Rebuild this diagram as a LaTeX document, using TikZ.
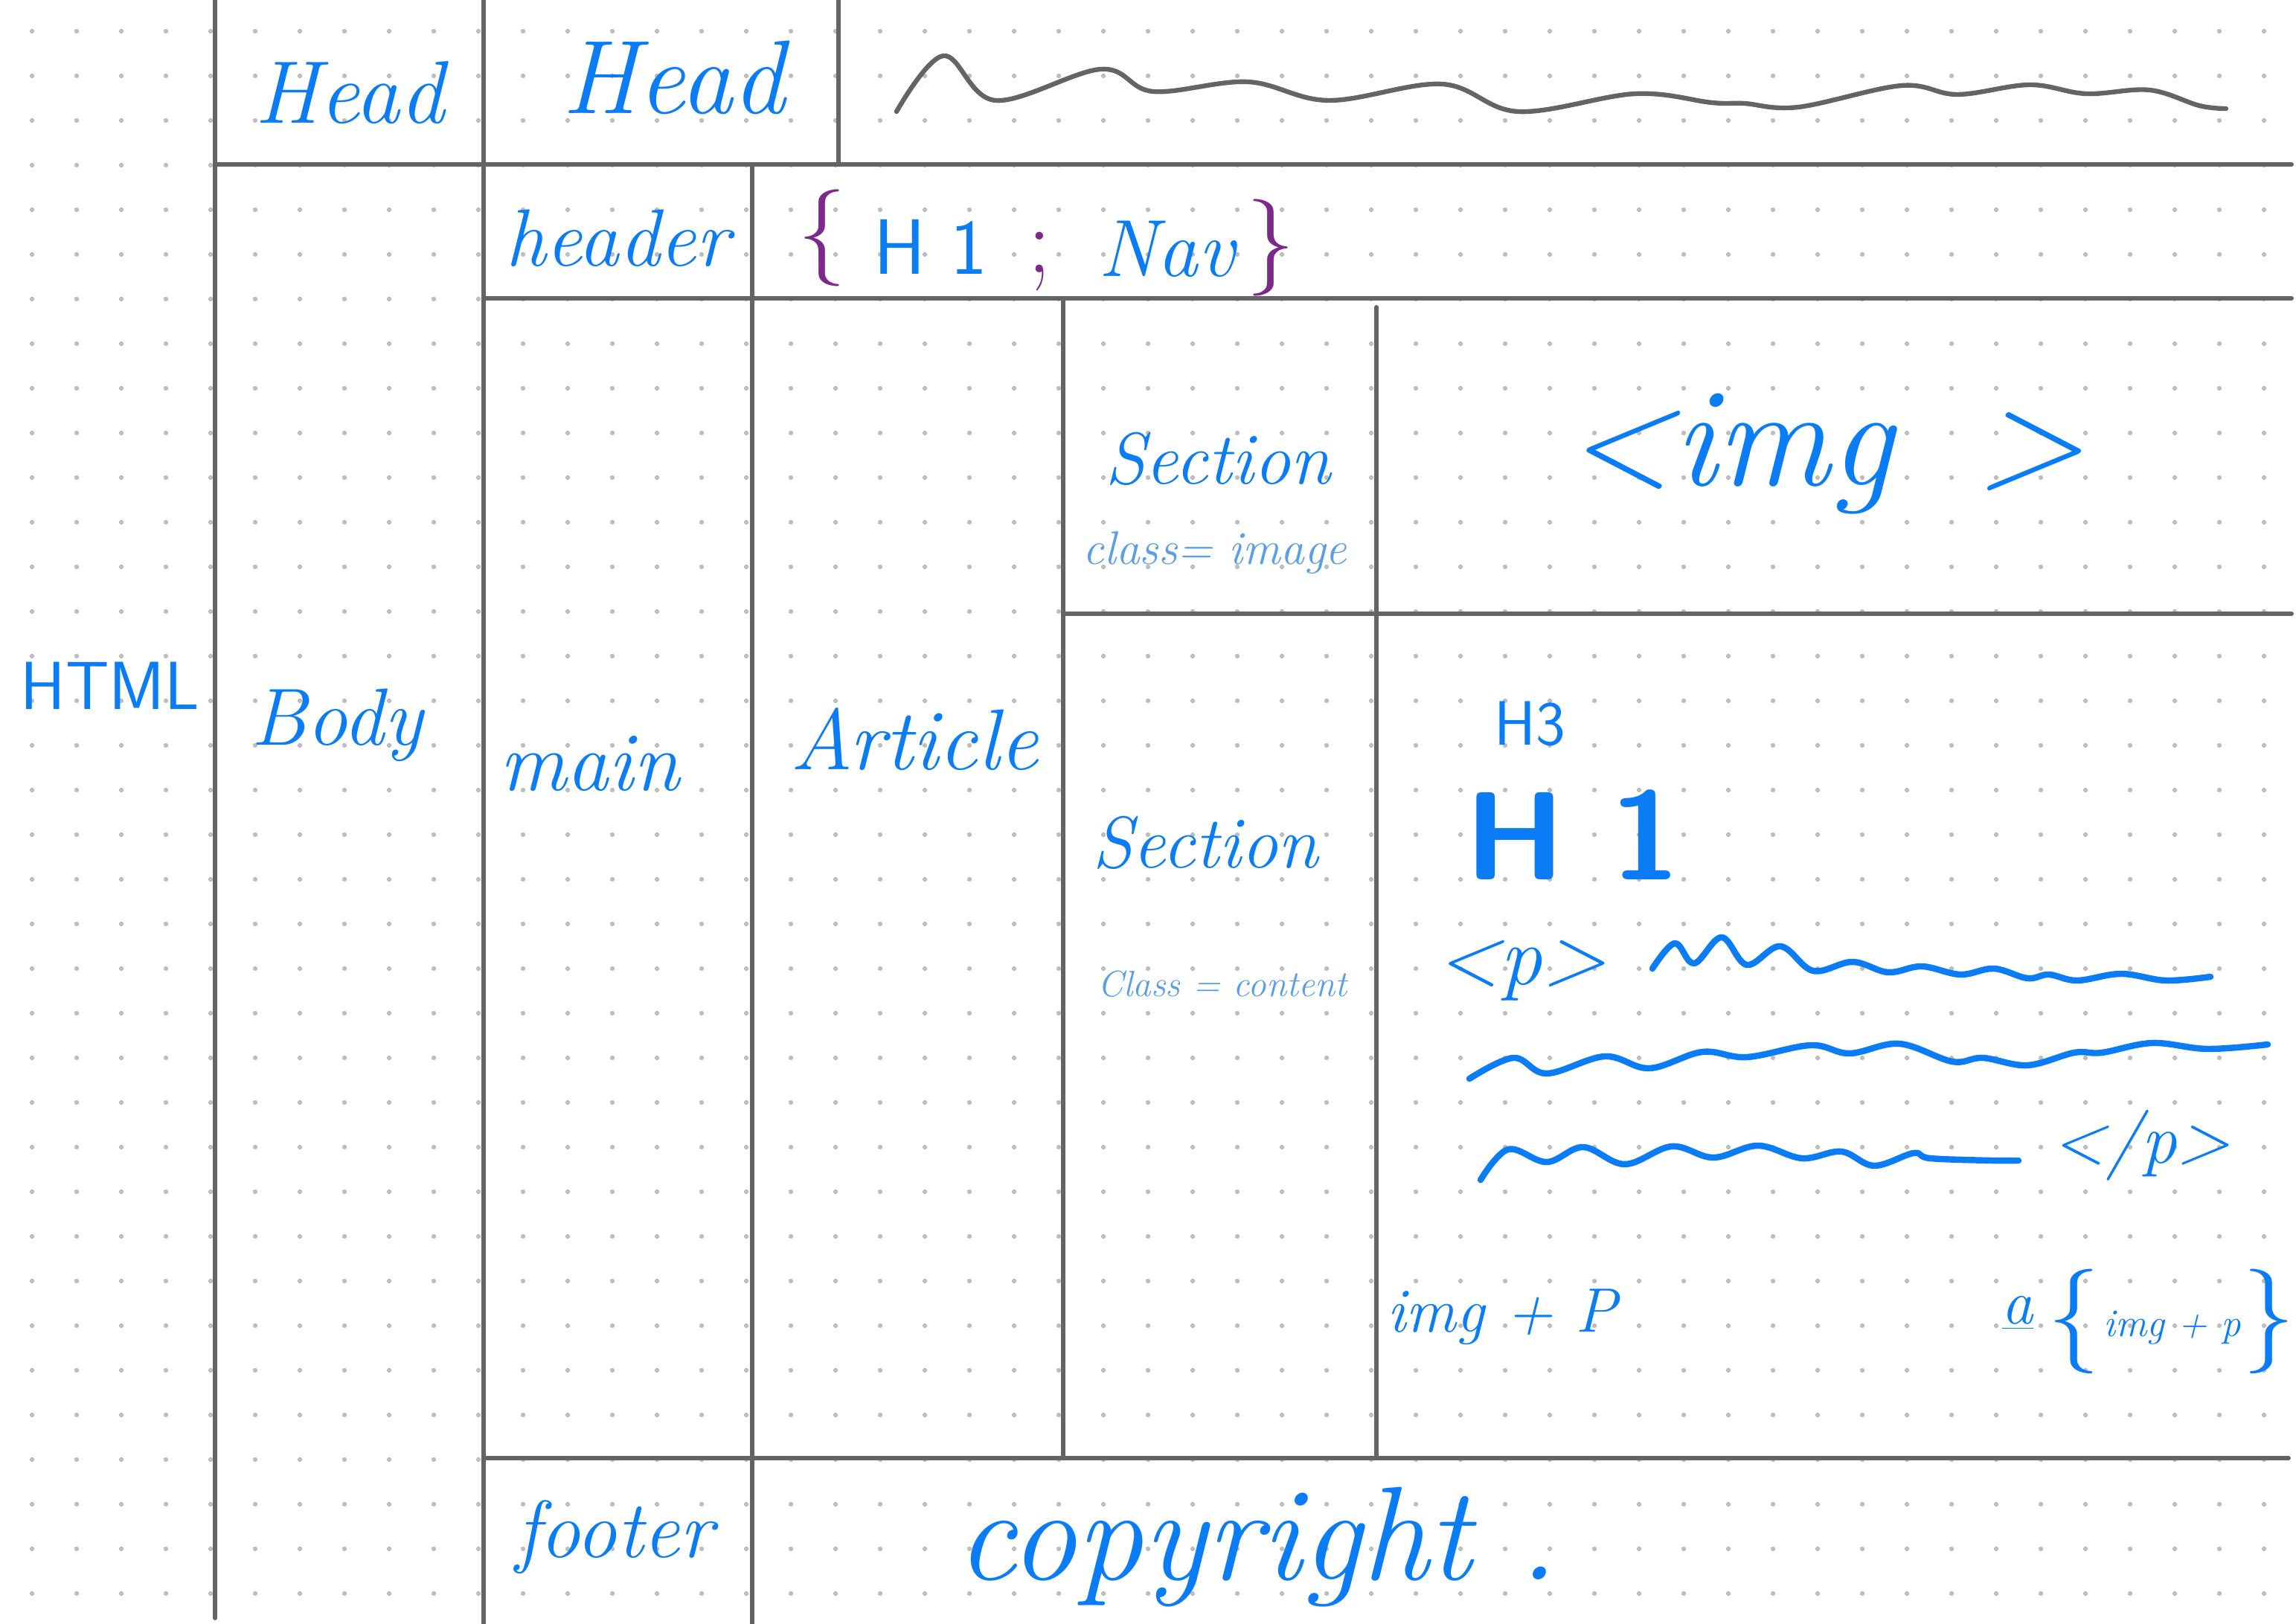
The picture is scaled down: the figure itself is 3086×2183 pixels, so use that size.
\documentclass[tikz,border=0pt]{standalone}
\usetikzlibrary{positioning}

\definecolor{inkblue}{HTML}{0A7CF5}
\definecolor{inkpale}{HTML}{5A9EE6}
\definecolor{inkpurple}{HTML}{7B2A8A}
\definecolor{rulegray}{HTML}{646464}
\definecolor{dotgray}{HTML}{BDBDBD}
\newcommand\fsz[1]{\fontsize{#1}{#1}\selectfont}

\begin{document}
\begin{tikzpicture}[
  x=0.01cm, y=-0.01cm,
  rule/.style={draw=rulegray, line width=1.7pt, line cap=round},
  scrawl/.style={draw=rulegray, line width=1.8pt, line cap=round, line join=round},
  wave/.style={draw=inkblue, line width=2.4pt, line cap=round, line join=round},
  hand/.style={text=inkblue, font=\itshape\fsz{#1}, inner sep=0pt},
  pale/.style={text=inkpale, font=\itshape\fsz{#1}, inner sep=0pt},
  print/.style={text=inkblue, font=\sffamily\fsz{#1}, inner sep=0pt},
  brace/.style={text=inkpurple, font=\fsz{#1}, inner sep=0pt}
]
\useasboundingbox (0,0) rectangle (3086,2183);

% dotted paper
\foreach \i in {0,...,50}
  \foreach \j in {0,...,35}
    \fill[dotgray] (43+60*\i, 42+60*\j) circle[radius=0.9pt];

% table rules
\draw[rule] (289,0) -- (289,2175);
\draw[rule] (650,0) -- (650,2183);
\draw[rule] (1127,0) -- (1127,220);
\draw[rule] (289,221) -- (3080,221);
\draw[rule] (1011,221) -- (1011,2183);
\draw[rule] (650,401) -- (3080,401);
\draw[rule] (1429,401) -- (1429,1958);
\draw[rule] (1850,413) -- (1850,1958);
\draw[rule] (1429,825) -- (3080,825);
\draw[rule] (650,1960) -- (3076,1960);

% left column labels
\node[print=26] (html) at (148,922) {HTML};
\node[hand=34] (headl) at (470,125) {Head};
\node[hand=31] (body) at (453,975) {Body};
\node[hand=40] (headr) at (905,104) {Head};
\draw[scrawl] plot[smooth, tension=0.6] coordinates {(1205,150) (1268,75) (1338,135) (1480,93) (1550,123) (1677,110) (1786,135) (1938,113) (2041,150) (2198,126) (2301,138) (2344,139) (2417,144) (2556,115) (2631,127) (2728,114) (2804,126) (2889,121) (2956,142) (2992,146)};

% header row
\node[hand=31] (header) at (830,320) {header};
\node[brace=37] (lbrace) at (1105,320) {\{};
\node[print=30] (hone) at (1251,332) {H 1};
\node[brace=36] (semi) at (1397,352) {;};
\node[hand=31] (nav) at (1568,335) {Nav};
\node[brace=37] (rbrace) at (1708,333) {\}};

% main
\node[hand=32] (main) at (792,1027) {main};
\node[hand=33] (article) at (1229,994) {Article};
\node[hand=28] (secimg) at (1637,617) {Section};
\node[pale=18] (clsimg) at (1633,743) {class= image};
\node[hand=54] (imgopen) at (2325,610) {\textless img};
\node[hand=54] (imgclose) at (2729,607) {\textgreater};

\node[hand=28] (seccont) at (1620,1133) {Section};
\node[pale=14] (clscont) at (1643,1323) {Class = content};
\node[print=24] (hthree) at (2056,973) {H3};
\node[print=48, font=\sffamily\bfseries\fsz{48}] (hbig) at (2114,1122) {H 1};
\node[hand=32] (popen) at (2045,1305) {\textless p\textgreater};
\draw[wave] plot[smooth, tension=0.6] coordinates {(2221,1302) (2251,1268) (2277,1295) (2314,1260) (2348,1297) (2393,1272) (2437,1305) (2490,1293) (2538,1307) (2583,1299) (2635,1310) (2680,1302) (2725,1315) (2754,1310) (2792,1318) (2851,1309) (2911,1318) (2971,1313)};
\draw[wave] plot[smooth, tension=0.6] coordinates {(1975,1450) (2034,1422) (2079,1443) (2157,1420) (2217,1436) (2288,1414) (2348,1421) (2434,1405) (2486,1416) (2553,1403) (2624,1427) (2665,1422) (2725,1432) (2788,1415) (2825,1415) (2893,1402) (2967,1410) (3048,1404)};
\draw[wave] plot[smooth, tension=0.6] coordinates {(1990,1586) (2027,1545) (2079,1562) (2128,1542) (2184,1565) (2247,1541) (2303,1556) (2363,1540) (2422,1557) (2475,1548) (2519,1567) (2572,1550) (2594,1557) (2676,1560) (2713,1560)};
\node[hand=27] (pclose) at (2878,1540) {\textless/p\textgreater};
\node[hand=24] (imgp) at (2019,1770) {img + P};
\node[hand=24] (link) at (2712,1765) {\underline{a}};
\node[brace=40, text=inkblue] (albrace) at (2788,1776) {\{};
\node[hand=15] (linkimgp) at (2920,1785) {img + p};
\node[brace=40, text=inkblue] (arbrace) at (3050,1776) {\}};

% footer row
\node[hand=31] (footer) at (826,2066) {footer};
\node[hand=51] (copy) at (1690,2080) {copyright .};
\end{tikzpicture}
\end{document}
